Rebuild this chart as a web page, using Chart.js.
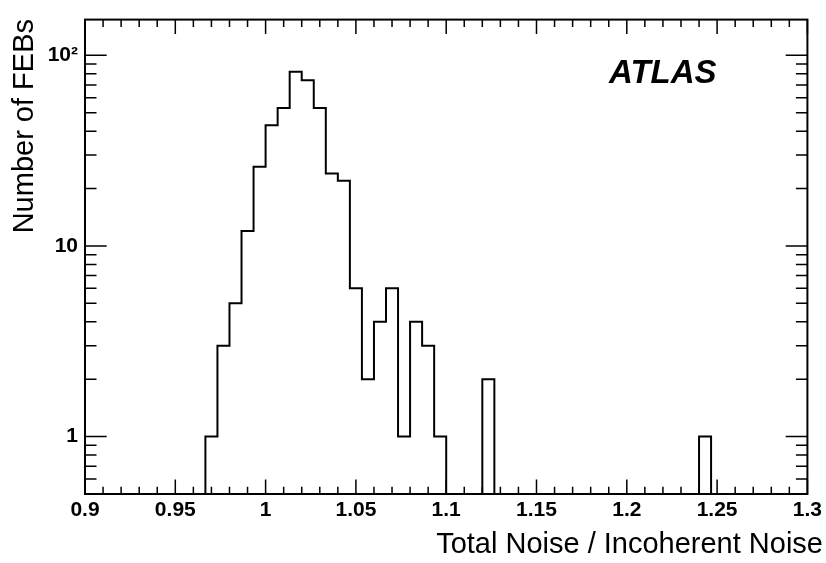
<!DOCTYPE html>
<html>
<head>
<meta charset="utf-8">
<script src="https://cdn.jsdelivr.net/npm/chart.js@4.4.1/dist/chart.umd.min.js"></script>
<style>
  body { margin: 0; background: #fff; }
</style>
</head>
<body>
<canvas id="myChart" width="826" height="563"></canvas>
<script>
// 60 bins between 0.9 and 1.3
var xMin = 0.9;
var xMax = 1.3;
var nBins = 60;
var counts = [
  0, 0, 0, 0, 0, 0, 0, 0, 0, 0,
  1, 3, 5, 12, 26, 43, 53, 82, 74, 53,
  24, 22, 6, 2, 4, 6, 1, 4, 3, 1,
  0, 0, 0, 2, 0, 0, 0, 0, 0, 0,
  0, 0, 0, 0, 0, 0, 0, 0, 0, 0,
  0, 1, 0, 0, 0, 0, 0, 0, 0, 0
];
var xTickLabels = [0.9, 0.95, 1, 1.05, 1.1, 1.15, 1.2, 1.25, 1.3];
var yTickLabels = [1, 10, 100];
var yMin = 0.5;
var yMax = 154;

var FONT = "'Liberation Sans', Arial, Helvetica, sans-serif";

var binWidth = (xMax - xMin) / nBins;
// empty bins sit on the axis floor (log scale can't show 0)
var points = counts.map(function (c, i) {
  return {x: xMin + i * binWidth, y: c > 0 ? c : yMin};
});
points.push({x: xMax, y: yMin});

// ROOT-like frame, inward ticks on all sides, titles and the ATLAS label
var rootFrame = {
  id: 'rootFrame',
  afterDraw: function (chart) {
    var ctx = chart.ctx;
    var a = chart.chartArea;
    var xs = chart.scales.x, ys = chart.scales.y;
    ctx.save();
    ctx.strokeStyle = '#000';
    ctx.lineWidth = 1.5;
    ctx.beginPath();
    // x ticks every 0.01, major every 0.05
    for (var i = 0; i <= 40; i++) {
      var px = xs.getPixelForValue(xMin + i * 0.01);
      var len = (i % 5 === 0) ? 14.5 : 7.3;
      ctx.moveTo(px, a.bottom); ctx.lineTo(px, a.bottom - len);
      ctx.moveTo(px, a.top); ctx.lineTo(px, a.top + len);
    }
    // y ticks, log decades
    for (var d = -1; d <= 2; d++) {
      for (var m = 1; m <= 9; m++) {
        var v = m * Math.pow(10, d);
        if (v < yMin || v > yMax) continue;
        var py = ys.getPixelForValue(v);
        var l = (m === 1) ? 21.7 : 11.5;
        ctx.moveTo(a.left, py); ctx.lineTo(a.left + l, py);
        ctx.moveTo(a.right, py); ctx.lineTo(a.right - l, py);
      }
    }
    ctx.stroke();
    ctx.lineWidth = 2;
    ctx.strokeRect(a.left, a.top, a.right - a.left, a.bottom - a.top);

    ctx.fillStyle = '#000';
    ctx.font = '29px ' + FONT;
    ctx.textAlign = 'right';
    ctx.textBaseline = 'alphabetic';
    ctx.fillText('Total Noise / Incoherent Noise', 823, 553);

    ctx.save();
    ctx.translate(33, 19);
    ctx.rotate(-Math.PI / 2);
    ctx.textAlign = 'right';
    ctx.fillText('Number of FEBs', 0, 0);
    ctx.restore();

    ctx.font = 'italic bold 33px ' + FONT;
    ctx.textAlign = 'left';
    ctx.fillText('ATLAS', 609, 83);
    ctx.restore();
  }
};

var ctx = document.getElementById('myChart');
var myChart = new Chart(ctx, {
  type: 'line',
  data: {
    datasets: [{
      data: points,
      borderColor: '#000',
      borderWidth: 2,
      stepped: true,
      fill: false,
      pointRadius: 0
    }]
  },
  options: {
    responsive: false,
    animation: false,
    layout: {padding: {top: 7, right: 16, left: 0, bottom: 0}},
    plugins: {legend: {display: false}, tooltip: {enabled: false}},
    scales: {
      x: {
        type: 'linear',
        min: xMin,
        max: xMax,
        grid: {display: false, drawTicks: false},
        border: {display: false},
        afterBuildTicks: function (s) {
          s.ticks = xTickLabels.map(function (v) { return {value: v}; });
        },
        afterFit: function (s) { s.height = 69; },
        ticks: {
          color: '#000',
          font: {family: FONT, size: 21, weight: 'bold'},
          padding: 4,
          maxRotation: 0,
          autoSkip: false,
          callback: function (v) { return String(v); }
        }
      },
      y: {
        type: 'logarithmic',
        min: yMin,
        max: yMax,
        grid: {display: false, drawTicks: false},
        border: {display: false},
        afterBuildTicks: function (s) {
          s.ticks = yTickLabels.map(function (v) { return {value: v}; });
        },
        afterFit: function (s) { s.width = 85; },
        ticks: {
          color: '#000',
          font: {family: FONT, size: 21, weight: 'bold'},
          padding: 7,
          autoSkip: false,
          callback: function (v) { return v === 100 ? '10\u00b2' : String(v); }
        }
      }
    }
  },
  plugins: [rootFrame]
});
</script>
</body>
</html>
